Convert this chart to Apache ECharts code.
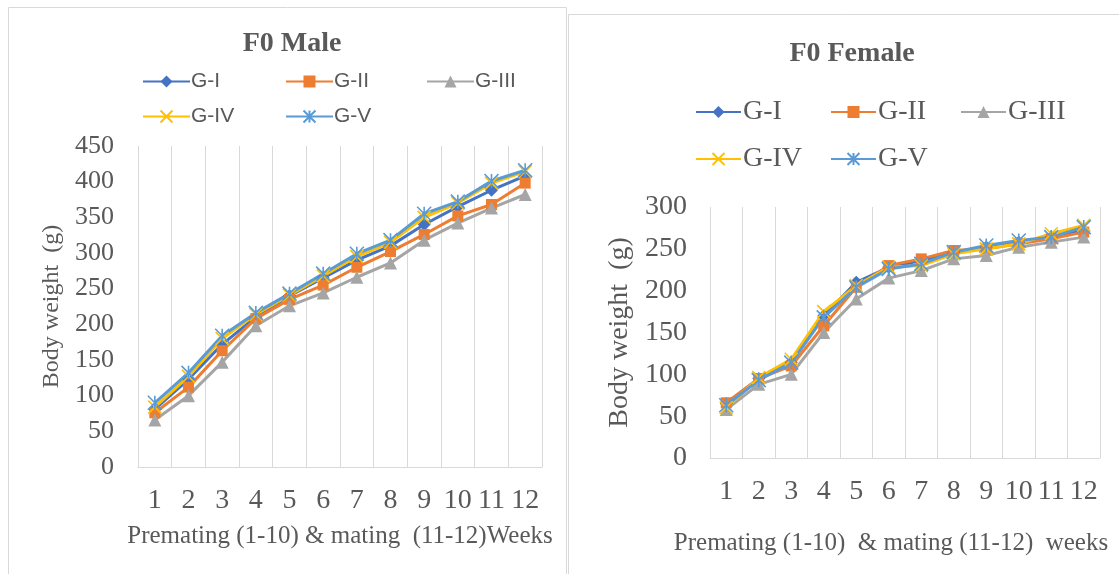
<!DOCTYPE html>
<html><head><meta charset="utf-8">
<script src="https://cdn.jsdelivr.net/npm/echarts@6/dist/echarts.min.js"></script>
<style>html,body{margin:0;padding:0;background:#fff}#c{width:1119px;height:574px}</style>
</head><body><div id="c"></div><script>
// ---- data ----
const weeks = ['1','2','3','4','5','6','7','8','9','10','11','12'];
const groups = ['G-I','G-II','G-III','G-IV','G-V'];

const maleGI   = [81,123,172,210,240,265,290,310,340,365,388,408];
const maleGII  = [76,112,163,208,235,255,280,302,326,352,368,398];
const maleGIII = [66,100,147,198,226,244,266,286,318,342,363,382];
const maleGIV  = [84,127,180,214,241,268,295,315,350,370,398,414];
const maleGV   = [90,132,184,216,243,271,299,318,355,372,401,416];

const femaleGI   = [65,95,114,170,210,228,236,246,252,258,264,272];
const femaleGII  = [66,95,110,158,204,230,238,248,250,256,262,270];
const femaleGIII = [58,88,100,150,190,215,224,238,242,252,258,264];
const femaleGIV  = [60,96,118,175,206,228,230,244,250,256,268,278];
const femaleGV   = [63,93,114,168,204,226,232,246,254,260,264,276];

const maleTitle = 'F0 Male';
const femaleTitle = 'F0 Female';
const yName = 'Body weight  (g)';
const maleXName = 'Premating (1-10) & mating  (11-12)Weeks';
const femaleXName = 'Premating (1-10)  & mating (11-12)  weeks';

// ---- styles ----
const colors = ['#4472C4','#ED7D31','#A5A5A5','#FFC000','#5B9BD5'];
const symbols = ['diamond','rect','triangle',
  'path://M0,0L10,10M10,0L0,10',
  'path://M5,0L5,10M0,0L10,10M10,0L0,10'];
const symbolSizes = [13,11,13,13,14];
const serif = '"Liberation Serif","Times New Roman",serif';
const sans = '"Liberation Sans",Arial,sans-serif';
const txt = '#595959';
const gridLine = '#d9d9d9';

const maleData = [maleGI,maleGII,maleGIII,maleGIV,maleGV];
const femaleData = [femaleGI,femaleGII,femaleGIII,femaleGIV,femaleGV];

function mkSeries(dataArr, idx){
  return dataArr.map((d,i)=>({
    name: groups[i], type:'line', xAxisIndex: idx, yAxisIndex: idx,
    data: d, symbol: symbols[i], symbolSize: symbolSizes[i],
    showAllSymbol: true, animation:false,
    lineStyle:{color:colors[i], width:3},
    itemStyle:{color:colors[i], borderColor:colors[i], borderWidth: i>=3?1.6:0}
  }));
}

function xAx(idx, name, nameGap, labelMargin, namePad){
  return {type:'category', gridIndex: idx, data: weeks, boundaryGap:true,
    axisLine:{lineStyle:{color:gridLine,width:1}}, axisTick:{show:false},
    axisLabel:{interval:0, margin:labelMargin, fontSize:28, color:txt, fontFamily:serif},
    splitLine:{show:true, lineStyle:{color:gridLine,width:1}},
    name: name, nameLocation:'middle', nameGap: nameGap,
    nameTextStyle:{fontSize:25, color:txt, fontFamily:serif, padding:namePad}};
}
function yAx(idx, max, fs, margin, nameGap, nfs){
  return {type:'value', gridIndex: idx, min:0, max:max, interval:50,
    axisLine:{show:false}, axisTick:{show:false}, splitLine:{show:false},
    axisLabel:{fontSize:fs, color:txt, fontFamily:serif, margin:margin},
    name: yName, nameLocation:'middle', nameRotate:90, nameGap:nameGap,
    nameTextStyle:{fontSize:nfs, color:txt, fontFamily:serif}};
}

const legends = [];
const leftPos = [[137,66],[280,66],[421,66],[137,101],[280,101]];
const rightPos = [[690,93],[825,93],[955,93],[690,140],[825,140]];
groups.forEach((g,i)=>{
  legends.push({data:[g], left:leftPos[i][0], top:leftPos[i][1], itemWidth:47, itemHeight:15, itemGap:0,
    selectedMode:false, textStyle:{fontSize:21, color:txt, fontFamily:sans, padding:[0,0,0,-4]}});
  legends.push({data:[g], left:rightPos[i][0], top:rightPos[i][1], itemWidth:45, itemHeight:15, itemGap:0,
    selectedMode:false, textStyle:{fontSize:28, color:txt, fontFamily:serif, padding:[0,0,0,-3]}});
});

const chart = echarts.init(document.getElementById('c'), null, {renderer:'canvas'});
chart.setOption({
  animation:false,
  backgroundColor:'#fff',
  title:[
    {text:maleTitle, left:287, top:25, textAlign:'center',
     textStyle:{fontSize:28, fontWeight:'bold', color:txt, fontFamily:serif}},
    {text:femaleTitle, left:847, top:35, textAlign:'center',
     textStyle:{fontSize:28, fontWeight:'bold', color:txt, fontFamily:serif}}
  ],
  legend: legends,
  grid:[
    {left:138, top:146, width:404, height:321, outerBoundsMode:'none', containLabel:false},
    {left:710, top:207, width:390, height:251, outerBoundsMode:'none', containLabel:false}
  ],
  xAxis:[xAx(0, maleXName, 57, 20, [0,0,0,0]), xAx(1, femaleXName, 73, 20, [0,28,0,0])],
  yAxis:[yAx(0, 450, 26, 24, 74, 24), yAx(1, 300, 28, 23, 76, 28)],
  graphic:[
    {type:'rect', shape:{x:8.5,y:7.5,width:558,height:600}, style:{fill:'none',stroke:'#d9d9d9',lineWidth:1}, silent:true},
    {type:'rect', shape:{x:568.5,y:14.5,width:600,height:600}, style:{fill:'none',stroke:'#d9d9d9',lineWidth:1}, silent:true}
  ],
  series: mkSeries(maleData,0).concat(mkSeries(femaleData,1))
});
</script></body></html>
